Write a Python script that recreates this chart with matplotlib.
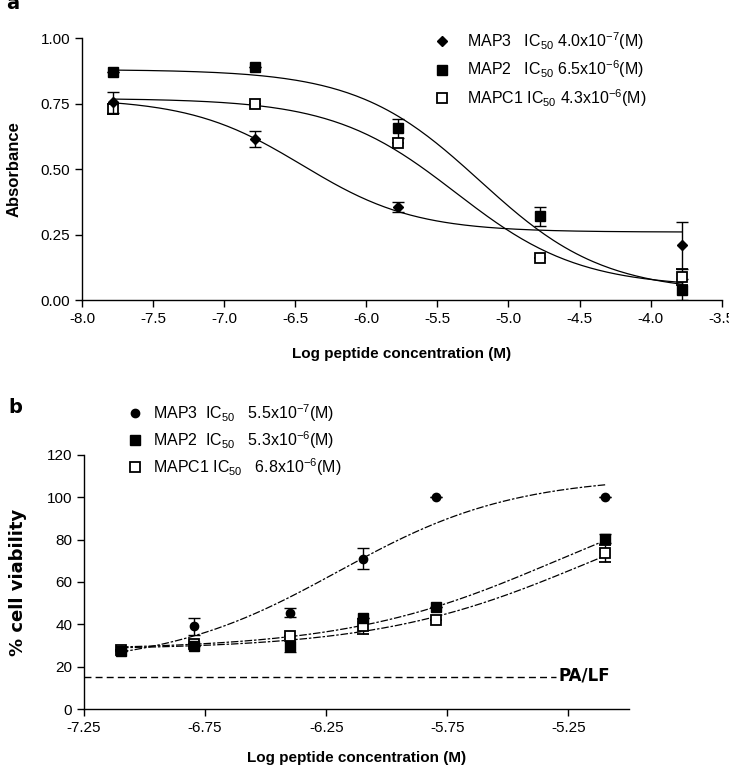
import numpy as np
import matplotlib
matplotlib.use("Agg")
import matplotlib.pyplot as plt
from matplotlib.lines import Line2D

plt.rcParams['font.family'] = ['Liberation Sans', 'DejaVu Sans']
plt.rcParams['mathtext.fontset'] = 'custom'
plt.rcParams['mathtext.rm'] = 'Liberation Sans'
plt.rcParams['mathtext.default'] = 'regular'

# ---- panel a: absorbance ----
log_conc_a = [-7.78, -6.78, -5.78, -4.78, -3.78]
map3_a = [0.755, 0.615, 0.355, np.nan, 0.21]
map3_a_err = [0.04, 0.03, 0.02, 0.0, 0.09]
map2_a = [0.87, 0.89, 0.655, 0.32, 0.04]
map2_a_err = [0.0, 0.0, 0.035, 0.035, 0.04]
mapc1_a = [0.73, 0.75, 0.60, 0.16, 0.09]
mapc1_a_err = [0.02, 0.0, 0.0, 0.0, 0.03]

# fitted 4-parameter logistic curves: (bottom, top, logIC50, hill)
fit_map3_a = (0.26, 0.77, -6.45, 1.1)
fit_map2_a = (0.03, 0.88, -5.20, 1.0)
fit_mapc1_a = (0.05, 0.77, -5.37, 1.0)

labels_a = ['MAP3   IC$_{50}$ 4.0x10$^{-7}$(M)',
            'MAP2   IC$_{50}$ 6.5x10$^{-6}$(M)',
            'MAPC1 IC$_{50}$ 4.3x10$^{-6}$(M)']

# ---- panel b: cell viability ----
log_conc_b = [-7.097, -6.796, -6.398, -6.097, -5.796, -5.097]
map3_b = [28, 39, 45.5, 71, 100, 100]
map3_b_err = [0, 4, 2, 5, 0, 0]
map2_b = [27.5, 30, 30, 43, 48, 80.5]
map2_b_err = [0, 0, 3, 0, 0, 2]
mapc1_b = [28, 30.5, 34.5, 39, 42, 73.5]
mapc1_b_err = [0, 0, 0, 3.5, 0, 4]

fit_map3_b = (20, 110, -6.20, 1.2)
fit_map2_b = (28, 112, -5.30, 1.0)
fit_mapc1_b = (28, 110, -5.17, 1.0)

pa_lf_level = 15

labels_b = ['MAP3  IC$_{50}$   5.5x10$^{-7}$(M)',
            'MAP2  IC$_{50}$   5.3x10$^{-6}$(M)',
            'MAPC1 IC$_{50}$   6.8x10$^{-6}$(M)']


def logistic(x, p, decreasing=True):
    bottom, top, c, h = p
    if decreasing:
        return bottom + (top - bottom) / (1 + 10 ** ((x - c) * h))
    return bottom + (top - bottom) / (1 + 10 ** ((c - x) * h))


def style_axes(ax):
    for s in ['top', 'right']:
        ax.spines[s].set_visible(False)
    ax.spines['left'].set_linewidth(1.0)
    ax.spines['bottom'].set_linewidth(1.0)
    ax.tick_params(direction='out', length=5, width=1.0, labelsize=11)


fig = plt.figure(figsize=(7.29, 7.68), dpi=100)

# panel a
ax1 = fig.add_axes([0.1125, 0.609, 0.8775, 0.3415])
xs = np.linspace(log_conc_a[0], log_conc_a[-1], 200)
for p in [fit_map3_a, fit_map2_a, fit_mapc1_a]:
    ax1.plot(xs, logistic(xs, p), color='black', lw=0.9)
ax1.errorbar(log_conc_a, mapc1_a, yerr=mapc1_a_err, fmt='s', ms=6.5, mfc='white',
             mec='black', mew=1.3, ecolor='black', capsize=4, elinewidth=1.0, zorder=3)
ax1.errorbar(log_conc_a, map2_a, yerr=map2_a_err, fmt='s', ms=7, color='black',
             ecolor='black', capsize=4, elinewidth=1.0, zorder=3)
ax1.errorbar(log_conc_a, map3_a, yerr=map3_a_err, fmt='D', ms=5.5, color='black',
             ecolor='black', capsize=4, elinewidth=1.0, zorder=4)
ax1.set_xlim(-8.0, -3.5)
ax1.set_ylim(0, 1.0)
ax1.set_xticks(np.arange(-8.0, -3.49, 0.5))
ax1.set_xticklabels([f'{v:.1f}' for v in np.arange(-8.0, -3.49, 0.5)])
ax1.set_yticks([0, 0.25, 0.5, 0.75, 1.0])
ax1.set_yticklabels(['0.00', '0.25', '0.50', '0.75', '1.00'])
style_axes(ax1)
ax1.set_xlabel('Log peptide concentration (M)', fontsize=11, fontweight='bold',
               labelpad=15)
ax1.set_ylabel('Absorbance', fontsize=12, fontweight='bold', labelpad=14)
handles_a = [Line2D([], [], ls='none', marker='D', ms=5.5, color='black'),
             Line2D([], [], ls='none', marker='s', ms=7, color='black'),
             Line2D([], [], ls='none', marker='s', ms=6.5, mfc='white', mec='black', mew=1.3)]
ax1.legend(handles_a, labels_a, loc='upper left', bbox_to_anchor=(0.525, 1.085),
           frameon=False, fontsize=11.5, handletextpad=1.0, labelspacing=0.42,
           handlelength=1.2)
fig.text(0.008, 0.995, 'a', fontsize=14, fontweight='bold', va='center',
         family=['DejaVu Sans'])

# panel b
ax2 = fig.add_axes([0.1152, 0.0768, 0.7476, 0.3308])
xs = np.linspace(log_conc_b[0], log_conc_b[-1], 200)
for p in [fit_map3_b, fit_map2_b, fit_mapc1_b]:
    ax2.plot(xs, logistic(xs, p, decreasing=False), color='black', lw=0.9,
             ls=(0, (6, 1.5, 2, 1.5)))
ax2.errorbar(log_conc_b, mapc1_b, yerr=mapc1_b_err, fmt='s', ms=6.5, mfc='white',
             mec='black', mew=1.3, ecolor='black', capsize=4, elinewidth=1.0, zorder=3)
ax2.errorbar(log_conc_b, map2_b, yerr=map2_b_err, fmt='s', ms=7, color='black',
             ecolor='black', capsize=4, elinewidth=1.0, zorder=3)
ax2.errorbar(log_conc_b, map3_b, yerr=map3_b_err, fmt='o', ms=6, color='black',
             ecolor='black', capsize=4, elinewidth=1.0, zorder=4)
ax2.plot([-7.25, -5.30], [pa_lf_level, pa_lf_level], color='black', lw=1.0,
         ls=(0, (5, 3)), clip_on=False)
ax2.text(-5.29, pa_lf_level + 0.8, 'PA/LF', fontsize=12, fontweight='bold',
         va='center', ha='left', family=['DejaVu Sans'])
ax2.set_xlim(-7.25, -5.0)
ax2.set_ylim(0, 120)
ax2.set_xticks([-7.25, -6.75, -6.25, -5.75, -5.25])
ax2.set_xticklabels(['-7.25', '-6.75', '-6.25', '-5.75', '-5.25'])
ax2.set_yticks(np.arange(0, 121, 20))
style_axes(ax2)
ax2.set_xlabel('Log peptide concentration (M)', fontsize=11, fontweight='bold',
               labelpad=12)
ax2.set_ylabel('% cell viability', fontsize=13, fontweight='bold',
               family=['DejaVu Sans'], labelpad=14)
handles_b = [Line2D([], [], ls='none', marker='o', ms=6, color='black'),
             Line2D([], [], ls='none', marker='s', ms=7, color='black'),
             Line2D([], [], ls='none', marker='s', ms=6.5, mfc='white', mec='black', mew=1.3)]
ax2.legend(handles_b, labels_b, loc='upper left', bbox_to_anchor=(0.05, 1.265),
           frameon=False, fontsize=11.5, handletextpad=0.5, labelspacing=0.33,
           handlelength=1.2)
fig.text(0.012, 0.47, 'b', fontsize=14, fontweight='bold', va='center',
         family=['DejaVu Sans'])

fig.savefig('out.png', dpi=100)
